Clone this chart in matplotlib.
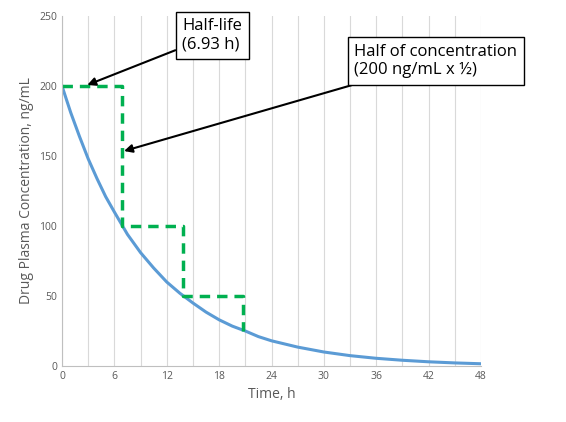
import matplotlib.pyplot as plt
import numpy as np

plt.rcParams['font.family'] = ['Open Sans', 'DejaVu Sans']

# time (h) and drug plasma concentration (ng/mL)
time_h = [0, 1, 2, 3, 4, 5, 6, 7.5, 9, 10.5, 12, 13.5, 15, 16.5, 18, 19.5, 21, 22.5, 24,
          27, 30, 33, 36, 39, 42, 45, 48]
conc = [200, 181, 164, 148, 134, 121, 110, 94, 81, 70, 60, 52, 45, 38.5, 33, 28.5, 25, 21, 18,
        13.5, 10, 7.4, 5.5, 4.1, 3.0, 2.2, 1.6]

# half-life steps
step_x = [0, 6.93, 6.93, 13.86, 13.86, 20.79, 20.79]
step_y = [200, 200, 100, 100, 50, 50, 25]

fig = plt.figure(figsize=(5.66, 4.22), dpi=100)
ax = fig.add_axes([62 / 566, 56 / 422, 419 / 566, 350 / 422])

ax.plot(time_h, conc, color='#5B9BD5', lw=2.2)
ax.plot(step_x, step_y, color='#00B050', lw=2.5, ls=(0, (3, 2)))

ax.set_xlim(0, 48)
ax.set_ylim(0, 250)
ax.set_xticks(range(0, 49, 6))
ax.set_xticks(range(0, 49, 3), minor=True)
ax.set_yticks(range(0, 251, 50))
ax.grid(axis='x', which='both', color='#D9D9D9', lw=0.8)
ax.set_axisbelow(True)
ax.tick_params(labelsize=7.5, colors='#595959', length=0, which='both')
for s in ['top', 'right']:
    ax.spines[s].set_visible(False)
for s in ['left', 'bottom']:
    ax.spines[s].set_color('#BFBFBF')
ax.set_xlabel('Time, h', fontsize=10, color='#595959')
ax.set_ylabel('Drug Plasma Concentration, ng/mL', fontsize=10, color='#595959')

box = dict(boxstyle='square,pad=0.4', fc='white', ec='black', lw=1)
ax.annotate('Half-life\n(6.93 h)', xy=(2.6, 200), xytext=(13.8, 236),
            fontsize=12, ha='left', va='center', bbox=box,
            arrowprops=dict(arrowstyle='-|>', color='black', lw=1.5, shrinkA=0))
ax.annotate('Half of concentration\n(200 ng/mL x ½)', xy=(6.8, 153), xytext=(33.5, 218),
            fontsize=12, ha='left', va='center', bbox=box, annotation_clip=False,
            arrowprops=dict(arrowstyle='-|>', color='black', lw=1.5, shrinkA=0))

fig.savefig('out.png', dpi=100)
